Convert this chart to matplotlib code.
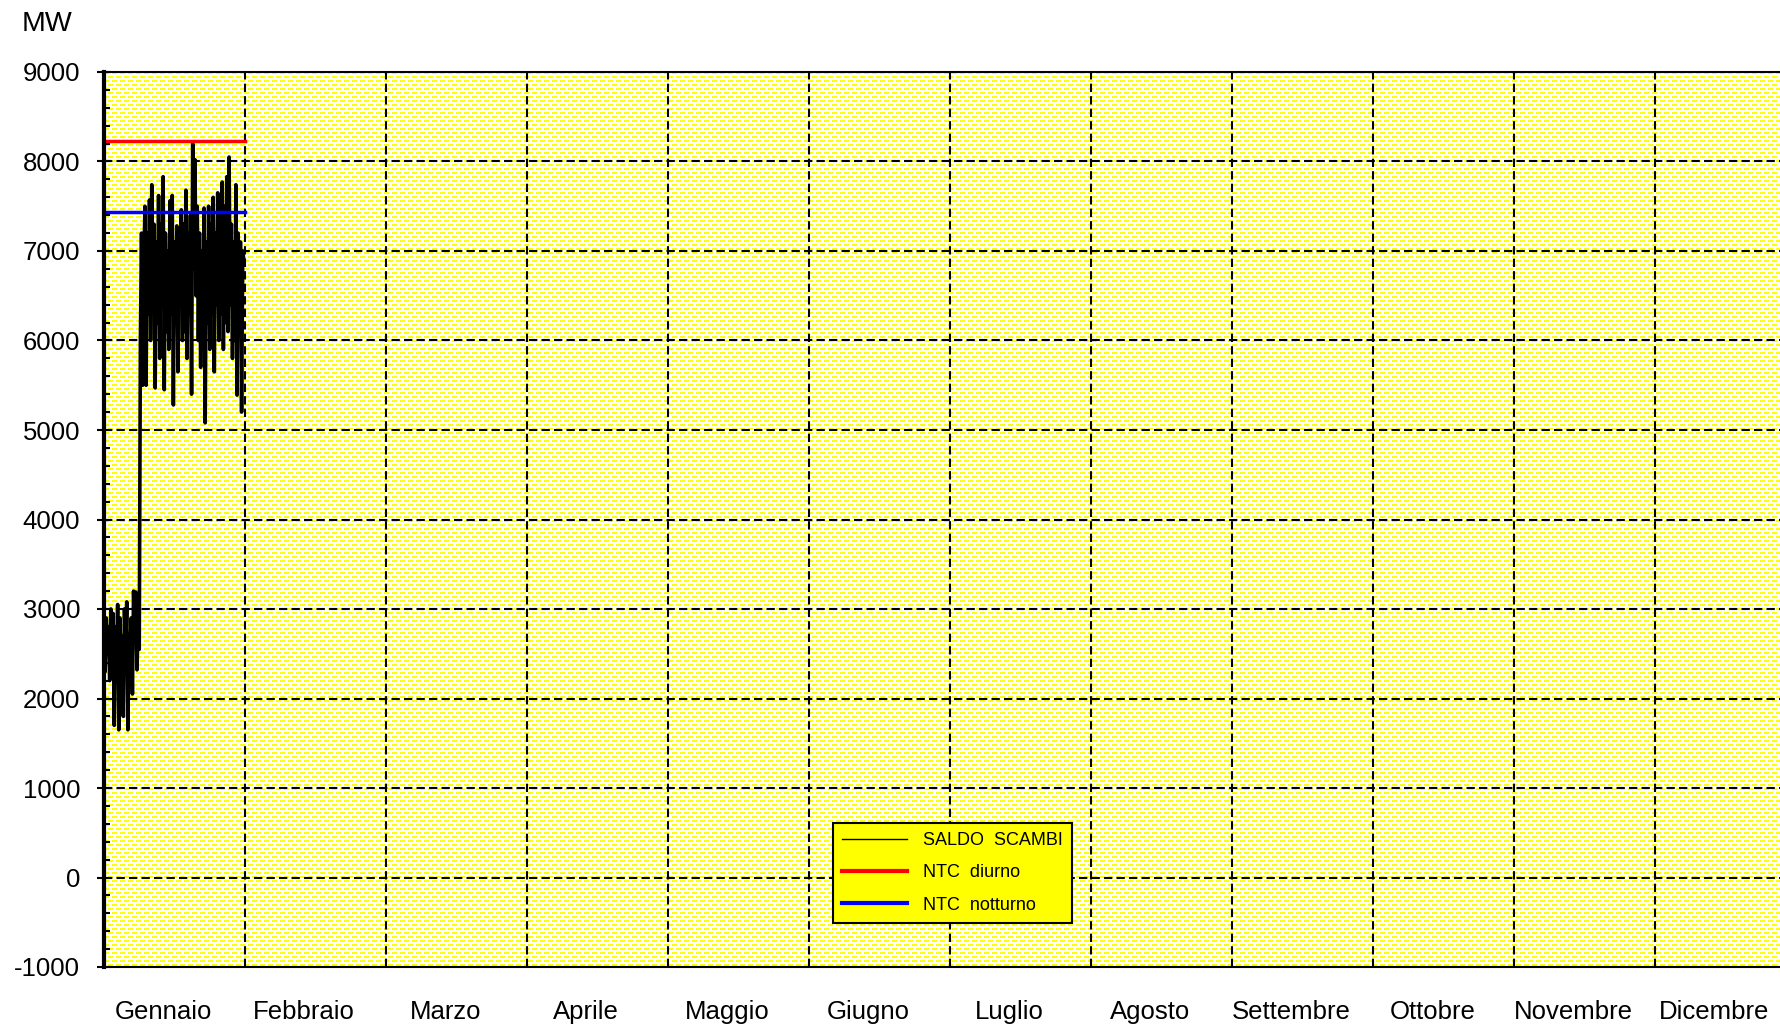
import numpy as np
import matplotlib
matplotlib.use('Agg')
import matplotlib.pyplot as plt
from matplotlib.ticker import MultipleLocator

# ---------------- data ----------------
months = ['Gennaio', 'Febbraio', 'Marzo', 'Aprile', 'Maggio', 'Giugno',
          'Luglio', 'Agosto', 'Settembre', 'Ottobre', 'Novembre', 'Dicembre']
y_ticks = [-1000, 0, 1000, 2000, 3000, 4000, 5000, 6000, 7000, 8000, 9000]
samples_per_day = 4
days_in_month = 31

# SALDO SCAMBI, January, 4 samples per day (MW)
saldo_scambi = [
    2700, 2300, 2900, 2500,
    2800, 2200, 3000, 2600,
    2950, 1700, 2800, 2400,
    3050, 1650, 2900, 2300,
    2700, 1800, 3000, 2500,
    3080, 1650, 2700, 2600,
    2900, 2050, 3200, 2700,
    3190, 2320, 2800, 2550,
    6000, 7200, 5500, 6800,
    7500, 5500, 7200, 6300,
    7570, 6000, 7740, 6500,
    7300, 5470, 7100, 6200,
    7620, 5800, 7300, 6400,
    7830, 5450, 7200, 6100,
    7000, 5900, 7560, 6300,
    7620, 5280, 7100, 6200,
    7280, 5650, 7000, 6400,
    7460, 6000, 7300, 6100,
    7680, 5800, 7200, 6300,
    7400, 5400, 8200, 6800,
    8020, 6500, 7500, 6000,
    7200, 5700, 7000, 5900,
    7480, 5080, 7100, 6200,
    7500, 5900, 7300, 6300,
    7600, 5650, 7200, 6400,
    7650, 6000, 7400, 6300,
    7770, 5900, 7500, 6200,
    7830, 6100, 8050, 6400,
    7300, 5800, 7100, 6000,
    7740, 5390, 7200, 6300,
    7100, 5200, 7000, 6900,
]
ntc_months = [0, 1]
ntc_diurno = [8230, 8230]
ntc_notturno = [7440, 7440]

# ---------------- figure ----------------
W, H = 1780, 1024
fig = plt.figure(figsize=(W / 100, H / 100), dpi=100)
plt.rcParams['font.family'] = ['Liberation Sans', 'DejaVu Sans']

ax_l, ax_r, ax_t, ax_b = 104, 1796, 72, 967
ax = fig.add_axes([ax_l / W, 1 - ax_b / H, (ax_r - ax_l) / W, (ax_b - ax_t) / H])
ax.set_xlim(0, 12)
ax.set_ylim(y_ticks[0], y_ticks[-1])

# dotted yellow background texture
tw, th = ax_r - ax_l, ax_b - ax_t
yy, xx = np.mgrid[0:th, 0:tw]
dots = (((yy % 8) < 2) & ((xx % 8) < 5)) | ((((yy + 4) % 8) < 2) & (((xx + 4) % 8) < 5))
tex = np.ones((th, tw, 3))
tex[..., 2] = np.where(dots, 0.0, 1.0)
ax.imshow(tex, extent=(0, 12, y_ticks[0], y_ticks[-1]), aspect='auto',
          interpolation='nearest', zorder=0, origin='upper')

# grid
dash = (0, (4, 2))
for m in range(1, 12):
    ax.axvline(m, color='black', lw=1.5, ls=dash, zorder=1)
for v in y_ticks[1:-1]:
    ax.axhline(v, color='black', lw=1.5, ls=dash, zorder=1)

# data
t = np.arange(len(saldo_scambi)) / samples_per_day / days_in_month
l1, = ax.plot(t, saldo_scambi, color='black', lw=2.6, zorder=3, label='SALDO  SCAMBI')
l2, = ax.plot(ntc_months, ntc_diurno, color='#FF0000', lw=2.5, zorder=4, label='NTC  diurno')
l3, = ax.plot(ntc_months, ntc_notturno, color='#0000FF', lw=2.5, zorder=4, label='NTC  notturno')

# spines
ax.spines['left'].set_linewidth(3)
ax.spines['top'].set_linewidth(1.5)
ax.spines['bottom'].set_linewidth(1.5)
ax.spines['right'].set_visible(False)
for s in ax.spines.values():
    s.set_zorder(5)

# ticks
ax.set_yticks(y_ticks)
ax.set_yticklabels([str(v) for v in y_ticks])
ax.yaxis.set_minor_locator(MultipleLocator(200))
ax.tick_params(axis='y', which='major', direction='inout', length=9.5, width=1.5,
               labelsize=18.5, pad=12.5)
ax.tick_params(axis='y', which='minor', direction='in', length=4.5, width=1.5)
ax.set_xticks([i + 0.5 - 0.08 for i in range(12)])
ax.set_xticklabels(months)
ax.tick_params(axis='x', which='both', length=0, labelsize=18.5, pad=24)

# unit label
fig.text(22 / W, 1 - 11 / H, 'MW', fontsize=20.5, ha='left', va='top')

# legend
leg = ax.legend(handles=[l1, l2, l3], loc='upper left',
                bbox_to_anchor=(833 / W, 1 - 823 / H), bbox_transform=fig.transFigure,
                borderaxespad=0, fancybox=False, shadow=False, framealpha=1,
                facecolor='#FFFF00', edgecolor='black', fontsize=13,
                handlelength=3.6, handletextpad=0.9, labelspacing=0.85, borderpad=0.5)
leg.get_frame().set_linewidth(1.5)
leg.set_zorder(10)
leg.get_lines()[0].set_linewidth(1.0)
leg.get_lines()[1].set_linewidth(3.0)
leg.get_lines()[2].set_linewidth(3.0)

fig.savefig('out.png', dpi=100)
